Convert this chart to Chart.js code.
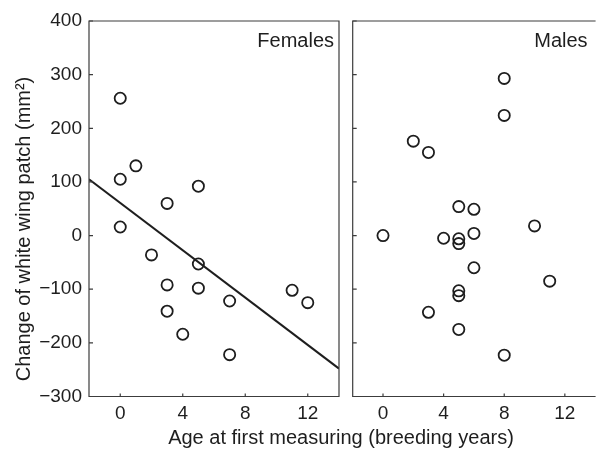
<!DOCTYPE html>
<html><head><meta charset="utf-8">
<script src="https://cdn.jsdelivr.net/npm/chart.js@4/dist/chart.umd.min.js"></script>
<style>
html,body{margin:0;padding:0;background:#fff;overflow:hidden;}
#wrap{position:relative;width:598px;height:451px;background:#fff;}
#c1{position:absolute;left:0;top:0;}
#c2{position:absolute;left:84px;top:0;}
</style></head><body>
<div id="wrap">
<canvas id="c1" width="598" height="451"></canvas>
<canvas id="c2" width="514" height="451"></canvas>
</div>
<script>
// ---- data ----
const femaleAge    = [0, 0, 0, 1, 2, 3, 3, 3, 4, 5, 5, 5, 7, 7, 11, 12];
const femaleChange = [256, 105, 16, 130, -36, 60, -92, -141, -184, 92, -53, -98, -122, -222, -102, -125];
const femaleFitAge    = [-2, 14];
const femaleFitChange = [105, -248];
const maleAge    = [8, 8, 2, 3, 5, 6, 10, 0, 4, 5, 5, 6, 6, 11, 5, 5, 3, 5, 8];
const maleChange = [293, 224, 176, 155, 54, 49, 18, 0, -5, -6, -15, 4, -60, -85, -103, -112, -143, -175, -223];
const xTicks = [0, 4, 8, 12];
const yTicks = [-300, -200, -100, 0, 100, 200, 300, 400];
const panelLabels = ['Females', 'Males'];
const xTitle = 'Age at first measuring (breeding years)';
const yTitle = 'Change of white wing patch (mm\u00B2)';

// ---- helpers ----
const FONT = "'Liberation Sans', Arial, Helvetica, sans-serif";
const INK = '#1e1e1e';
const AXIS = '#3c3c3c';
const toPts = (xs, ys) => xs.map((x, i) => ({x: x, y: ys[i]}));
const fmt = v => String(v).replace('-', '\u2212');

function panelPlugin(label, labelInset, fullBox) {
  return {
    id: 'panel',
    afterDraw(chart) {
      const {ctx, chartArea: a, scales} = chart;
      ctx.save();
      ctx.strokeStyle = AXIS;
      ctx.lineWidth = 1.2;
      ctx.beginPath();
      if (fullBox) {
        ctx.rect(a.left, a.top, a.right - a.left, a.bottom - a.top);
      } else {
        ctx.moveTo(a.right + 5, a.top); ctx.lineTo(a.left, a.top);
        ctx.lineTo(a.left, a.bottom); ctx.lineTo(a.right + 5, a.bottom);
      }
      ctx.stroke();
      ctx.beginPath();
      yTicks.forEach(v => {
        const y = scales.y.getPixelForValue(v);
        ctx.moveTo(a.left, y); ctx.lineTo(a.left + 4, y);
      });
      xTicks.forEach(v => {
        const x = scales.x.getPixelForValue(v);
        ctx.moveTo(x, a.bottom); ctx.lineTo(x, a.bottom - 3);
      });
      ctx.stroke();
      ctx.fillStyle = INK;
      ctx.font = '20px ' + FONT;
      ctx.textAlign = 'right';
      ctx.textBaseline = 'alphabetic';
      ctx.fillText(label, a.right - labelInset, a.top + 26);
      ctx.restore();
    }
  };
}

function makeX(max, h) {
  return {
    type: 'linear', min: -2, max: max,
    grid: {display: false, drawTicks: false},
    border: {display: false},
    afterBuildTicks: s => { s.ticks = xTicks.map(v => ({value: v})); },
    afterFit: s => { s.height = h; },
    ticks: {color: INK, font: {size: 19, family: FONT}, padding: 6, callback: v => fmt(v), maxRotation: 0}
  };
}
function makeY(w, showLabels) {
  return {
    type: 'linear', min: -300, max: 400,
    grid: {display: false, drawTicks: false},
    border: {display: false},
    afterBuildTicks: s => { s.ticks = yTicks.map(v => ({value: v})); },
    afterFit: s => { s.width = w; },
    ticks: {display: showLabels, color: INK, font: {size: 19, family: FONT}, padding: 7, callback: v => fmt(v)}
  };
}
const pointStyle = {
  showLine: false, pointStyle: 'circle', pointRadius: 5.6, pointHoverRadius: 5.6,
  pointBorderWidth: 1.8, pointBorderColor: INK, pointBackgroundColor: 'rgba(0,0,0,0)'
};

new Chart(document.getElementById('c1'), {
  type: 'scatter',
  data: {datasets: [
    Object.assign({label: panelLabels[0], data: toPts(femaleAge, femaleChange)}, pointStyle),
    {label: 'fit', data: toPts(femaleFitAge, femaleFitChange), showLine: true, pointRadius: 0,
     borderColor: INK, borderWidth: 2, fill: false}
  ]},
  options: {
    responsive: false, animation: false, devicePixelRatio: 1,
    layout: {padding: {left: 12, top: 21, right: 259, bottom: 14}},
    plugins: {
      legend: {display: false}, tooltip: {enabled: false},
      title: {display: true, text: yTitle, position: 'left', padding: 0,
              color: INK, font: {size: 20, family: FONT, weight: 'normal'}}
    },
    scales: {x: makeX(14, 40.5), y: makeY(53, true)}
  },
  plugins: [panelPlugin(panelLabels[0], 5, true)]
});

new Chart(document.getElementById('c2'), {
  type: 'scatter',
  data: {datasets: [
    Object.assign({label: panelLabels[1], data: toPts(maleAge, maleChange)}, pointStyle)
  ]},
  options: {
    responsive: false, animation: false, devicePixelRatio: 1,
    layout: {padding: {left: 0, top: 21, right: 0, bottom: 0}},
    plugins: {
      legend: {display: false}, tooltip: {enabled: false},
      title: {display: true, text: xTitle, position: 'bottom', padding: {top: 0, bottom: 1},
              color: INK, font: {size: 20, family: FONT, weight: 'normal'}}
    },
    scales: {x: makeX(13.7, 29.5), y: makeY(268.7, false)}
  },
  plugins: [panelPlugin(panelLabels[1], 3, false)]
});
</script>
</body></html>
